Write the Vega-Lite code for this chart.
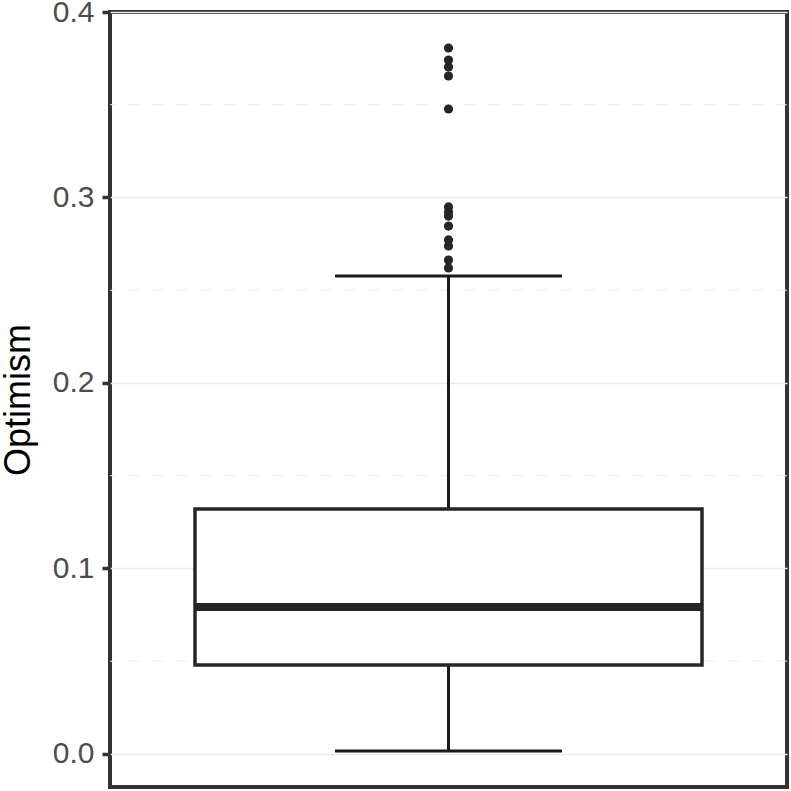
{
  "$schema": "https://vega.github.io/schema/vega-lite/v6.json",
  "width": 677,
  "height": 775,
  "autosize": {"type": "none"},
  "padding": {"left": 110, "top": 12, "right": 4, "bottom": 4},
  "background": "white",
  "config": {
    "view": {"stroke": "#333333", "strokeWidth": 4},
    "font": "Liberation Sans",
    "axis": {"ticks": true, "tickColor": "#333333", "tickWidth": 3.5, "tickSize": 8, "tickOpacity": 1}
  },
  "datasets": {
    "stats": [
      {"group": "all", "lower": 0.0016, "q1": 0.048, "median": 0.0792, "q3": 0.1321, "upper": 0.2577}
    ],
    "minor": [
      {"group": "all", "v": 0.05},
      {"group": "all", "v": 0.15},
      {"group": "all", "v": 0.25},
      {"group": "all", "v": 0.35}
    ],
    "outliers": [
      {"group": "all", "optimism": 0.3806},
      {"group": "all", "optimism": 0.3741},
      {"group": "all", "optimism": 0.3704},
      {"group": "all", "optimism": 0.3655},
      {"group": "all", "optimism": 0.3477},
      {"group": "all", "optimism": 0.2949},
      {"group": "all", "optimism": 0.2922},
      {"group": "all", "optimism": 0.29},
      {"group": "all", "optimism": 0.2846},
      {"group": "all", "optimism": 0.2771},
      {"group": "all", "optimism": 0.2739},
      {"group": "all", "optimism": 0.2663},
      {"group": "all", "optimism": 0.262}
    ]
  },
  "layer": [
    {
      "data": {"name": "minor"},
      "mark": {"type": "rule", "color": "#EBEBEB", "strokeWidth": 1, "strokeDash": [12, 12]},
      "encoding": {
        "y": {
          "field": "v", "type": "quantitative",
          "scale": {"domain": [-0.0178, 0.4], "nice": false, "zero": false},
          "axis": {
            "title": "Optimism",
            "titleFont": "Liberation Sans",
            "titleFontSize": 36,
            "titleFontWeight": "normal",
            "titleColor": "#000000",
            "titlePadding": 15,
            "values": [0, 0.1, 0.2, 0.3, 0.4],
            "format": ".1f",
            "labelFont": "Liberation Sans",
            "labelFontSize": 30,
            "labelColor": "#4D4D4D",
            "labelPadding": 8,
            "domain": false,
            "grid": true,
            "gridColor": "#EBEBEB",
            "gridWidth": 1.5
          }
        }
      }
    },
    {
      "data": {"name": "stats"},
      "mark": {"type": "rule", "color": "#1a1a1a", "strokeWidth": 3},
      "encoding": {
        "x": {"field": "group", "type": "nominal", "axis": null},
        "y": {"field": "lower", "type": "quantitative"},
        "y2": {"field": "q1"}
      }
    },
    {
      "data": {"name": "stats"},
      "mark": {"type": "rule", "color": "#1a1a1a", "strokeWidth": 3},
      "encoding": {
        "x": {"field": "group", "type": "nominal", "axis": null},
        "y": {"field": "q3", "type": "quantitative"},
        "y2": {"field": "upper"}
      }
    },
    {
      "data": {"name": "stats"},
      "mark": {"type": "tick", "color": "#1a1a1a", "opacity": 1, "size": 227, "thickness": 3},
      "encoding": {
        "x": {"field": "group", "type": "nominal", "axis": null},
        "y": {"field": "lower", "type": "quantitative"}
      }
    },
    {
      "data": {"name": "stats"},
      "mark": {"type": "tick", "color": "#1a1a1a", "opacity": 1, "size": 227, "thickness": 3},
      "encoding": {
        "x": {"field": "group", "type": "nominal", "axis": null},
        "y": {"field": "upper", "type": "quantitative"}
      }
    },
    {
      "data": {"name": "stats"},
      "mark": {"type": "bar", "width": 507, "fill": "white", "stroke": "#262626", "strokeWidth": 3.5},
      "encoding": {
        "x": {"field": "group", "type": "nominal", "axis": null},
        "y": {"field": "q1", "type": "quantitative"},
        "y2": {"field": "q3"}
      }
    },
    {
      "data": {"name": "stats"},
      "mark": {"type": "tick", "color": "#262626", "opacity": 1, "size": 507, "thickness": 8},
      "encoding": {
        "x": {"field": "group", "type": "nominal", "axis": null},
        "y": {"field": "median", "type": "quantitative"}
      }
    },
    {
      "data": {"name": "outliers"},
      "mark": {"type": "circle", "color": "#262626", "opacity": 1, "size": 85},
      "encoding": {
        "x": {"field": "group", "type": "nominal", "axis": null},
        "y": {"field": "optimism", "type": "quantitative"}
      }
    }
  ]
}
